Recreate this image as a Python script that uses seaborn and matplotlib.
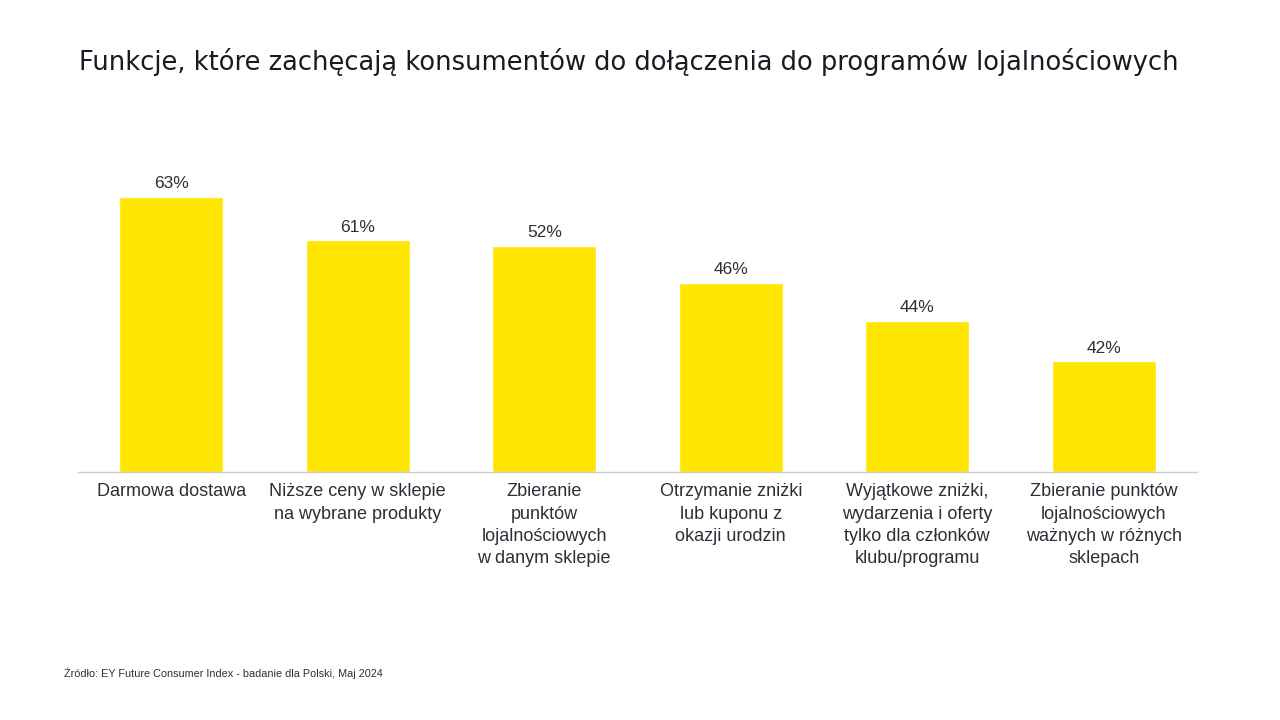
import matplotlib
matplotlib.use("Agg")
import matplotlib.pyplot as plt
import seaborn as sns
import pandas as pd

# Data
categories = [
    "Darmowa dostawa",
    "Niższe ceny w sklepie\nna wybrane produkty",
    "Zbieranie\npunktów\nlojalnościowych\nw danym sklepie",
    "Otrzymanie zniżki\nlub kuponu z\nokazji urodzin",
    "Wyjątkowe zniżki,\nwydarzenia i oferty\ntylko dla członków\nklubu/programu",
    "Zbieranie punktów\nlojalnościowych\nważnych w różnych\nsklepach",
]
# percentages printed above the bars
labels_pct = [63, 61, 52, 46, 44, 42]
# bar heights as drawn in the picture (the original is not to scale)
bar_heights = [63, 53.1, 51.8, 43.3, 34.6, 25.4]

df = pd.DataFrame({"cat": categories, "height": bar_heights, "pct": labels_pct})

sns.set_theme(style="white")
plt.rcParams["font.family"] = ["Liberation Sans", "DejaVu Sans"]

fig = plt.figure(figsize=(12.8, 7.2), dpi=100)
ax = fig.add_axes([78 / 1280, 248 / 720, 1119 / 1280, 372 / 720])

sns.barplot(data=df, x="cat", y="height", color="#FFE600", saturation=1,
            width=0.555, ax=ax)

for i, (h, p) in enumerate(zip(df["height"], df["pct"])):
    ax.annotate(f"{p}%", (i, h), xytext=(0, 4), textcoords="offset points",
                ha="center", va="bottom", fontsize=12.5, color="#2e2e38")

ax.set_xlim(-0.5, 5.5)
ax.set_ylim(0, 85.2)
ax.set_xlabel("")
ax.set_ylabel("")
ax.set_yticks([])
for s in ["top", "right", "left"]:
    ax.spines[s].set_visible(False)
ax.spines["bottom"].set_color("#cccccc")
ax.spines["bottom"].set_linewidth(1)
ax.tick_params(axis="x", length=0, pad=8, labelsize=13, labelcolor="#2e2e38")
for t in ax.get_xticklabels():
    t.set_linespacing(1.42)

fig.text(0.4915, 1 - 62 / 720, "Funkcje, które zachęcają konsumentów do dołączenia do programów lojalnościowych",
         ha="center", va="center", fontsize=18.5, color="#1a1a24", family=["DejaVu Sans"])
fig.text(64 / 1280, 1 - 673 / 720, "Źródło: EY Future Consumer Index - badanie dla Polski, Maj 2024",
         ha="left", va="center", fontsize=7.8, color="#2e2e38")

fig.savefig("out.png", dpi=100, facecolor="white")
